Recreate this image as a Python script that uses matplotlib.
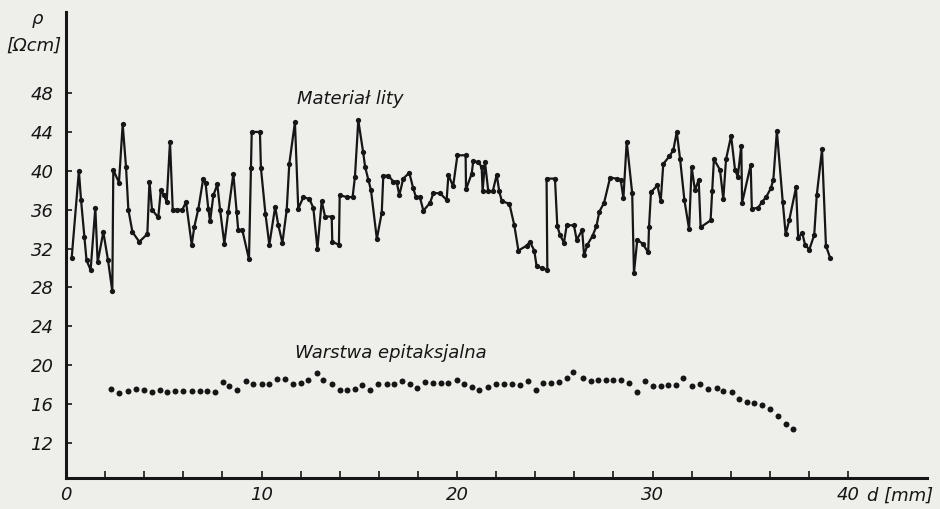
"""Resistivity along the sample: bulk material vs epitaxial layer."""

import matplotlib
matplotlib.use("Agg")
import matplotlib.pyplot as plt

# Materiał lity (bulk) - d [mm], rho [Ohm cm]
mat_d = [0.29, 0.66, 0.77, 0.94, 1.05, 1.26, 1.50, 1.62, 1.91, 2.15, 2.37, 2.42,
         2.71, 2.90, 3.07, 3.19, 3.40, 3.75, 4.16, 4.27, 4.40, 4.72, 4.85, 5.01,
         5.15, 5.32, 5.46, 5.70, 5.95, 6.14, 6.43, 6.56, 6.77, 7.02, 7.14, 7.28,
         7.37, 7.54, 7.74, 7.88, 8.10, 8.30, 8.56, 8.73, 8.81, 9.02, 9.36, 9.46,
         9.50, 9.92, 9.97, 10.20, 10.40, 10.70, 10.86, 11.07, 11.29, 11.42, 11.71,
         11.88, 12.14, 12.45, 12.65, 12.86, 13.08, 13.25, 13.59, 13.62, 13.96,
         14.00, 14.36, 14.66, 14.78, 14.95, 15.20, 15.30, 15.46, 15.60, 15.90,
         16.15, 16.23, 16.49, 16.74, 16.91, 17.05, 17.25, 17.56, 17.76, 17.90,
         18.10, 18.28, 18.62, 18.79, 19.13, 19.47, 19.56, 19.80, 20.02, 20.44,
         20.46, 20.75, 20.83, 21.09, 21.26, 21.31, 21.43, 21.60, 21.83, 22.03,
         22.16, 22.29, 22.68, 22.93, 23.14, 23.56, 23.73, 23.95, 24.07, 24.33,
         24.62, 24.58, 25.01, 25.13, 25.27, 25.47, 25.61, 25.98, 26.12, 26.40,
         26.50, 26.67, 26.93, 27.13, 27.28, 27.52, 27.83, 28.17, 28.37, 28.51,
         28.68, 28.96, 29.05, 29.22, 29.50, 29.78, 29.82, 29.92, 30.25, 30.42,
         30.55, 30.86, 31.06, 31.24, 31.41, 31.63, 31.87, 32.00, 32.17, 32.36,
         32.46, 32.97, 33.05, 33.14, 33.45, 33.62, 33.76, 34.02, 34.22, 34.36,
         34.54, 34.58, 35.02, 35.08, 35.40, 35.60, 35.81, 36.05, 36.18, 36.36,
         36.66, 36.81, 36.99, 37.34, 37.45, 37.66, 37.80, 38.02, 38.27, 38.40,
         38.67, 38.87, 39.09]
mat_rho = [31.0, 40.0, 37.0, 33.2, 30.8, 29.8, 36.2, 30.6, 33.7, 30.8, 27.6, 40.1,
           38.8, 44.8, 40.4, 36.0, 33.7, 32.7, 33.5, 38.9, 36.0, 35.2, 38.0, 37.5,
           36.8, 43.0, 36.0, 36.0, 36.0, 36.8, 32.4, 34.2, 36.1, 39.2, 38.7, 36.1,
           34.8, 37.5, 38.6, 36.0, 32.5, 35.8, 39.7, 35.8, 33.9, 33.9, 30.9, 40.3,
           44.0, 44.0, 40.3, 35.6, 32.4, 36.3, 34.4, 32.6, 36.0, 40.7, 45.0,
           36.1, 37.3, 37.1, 36.2, 32.0, 36.9, 35.3, 35.3, 32.7, 32.4,
           37.5, 37.3, 37.3, 39.4, 45.2, 41.9, 40.4, 39.1, 38.0, 33.0,
           35.7, 39.5, 39.5, 38.9, 38.9, 37.5, 39.2, 39.8, 38.2, 37.3,
           37.3, 35.9, 36.7, 37.7, 37.7, 37.0, 39.6, 38.4, 41.6, 41.6,
           38.1, 39.7, 41.0, 40.9, 40.4, 37.9, 40.9, 37.9, 37.9, 39.6,
           37.9, 36.9, 36.6, 34.4, 31.8, 32.3, 32.7, 31.8, 30.2, 30.0,
           29.8, 39.2, 39.2, 34.3, 33.4, 32.6, 34.4, 34.4, 32.9, 33.9,
           31.3, 32.4, 33.3, 34.3, 35.8, 36.7, 39.3, 39.2, 39.1, 37.2,
           43.0, 37.7, 29.5, 32.9, 32.5, 31.6, 34.2, 37.8, 38.5, 36.9,
           40.7, 41.5, 42.1, 44.0, 41.2, 37.0, 34.0, 40.4, 38.0, 39.1,
           34.2, 34.9, 37.9, 41.2, 40.1, 37.1, 41.2, 43.6, 40.1, 39.4,
           42.6, 36.7, 40.6, 36.1, 36.2, 36.8, 37.3, 38.2, 39.1, 44.1,
           36.8, 33.5, 34.9, 38.3, 33.1, 33.6, 32.4, 31.9, 33.4, 37.5,
           42.2, 32.3, 31.0]

# Warstwa epitaksjalna (epitaxial layer)
epi_d = [2.30, 2.73, 3.19, 3.56, 3.99, 4.38, 4.81, 5.18, 5.58, 6.00, 6.43, 6.85,
         7.23, 7.62, 8.01, 8.35, 8.76, 9.21, 9.58, 10.01, 10.40, 10.78, 11.20,
         11.60, 12.00, 12.40, 12.82, 13.16, 13.59, 14.02, 14.39, 14.78, 15.12,
         15.55, 15.98, 16.40, 16.80, 17.17, 17.60, 17.97, 18.36, 18.79, 19.16,
         19.56, 19.98, 20.36, 20.75, 21.14, 21.56, 21.99, 22.40, 22.83, 23.22,
         23.61, 24.02, 24.42, 24.81, 25.22, 25.61, 25.95, 26.43, 26.84, 27.23,
         27.62, 28.00, 28.39, 28.80, 29.19, 29.62, 30.01, 30.42, 30.81, 31.20,
         31.58, 32.00, 32.43, 32.82, 33.28, 33.62, 34.05, 34.44, 34.82, 35.19,
         35.59, 36.01, 36.40, 36.81, 37.20]
epi_rho = [17.6, 17.1, 17.4, 17.6, 17.5, 17.2, 17.5, 17.2, 17.4, 17.4, 17.4, 17.4,
           17.4, 17.2, 18.3, 17.9, 17.5, 18.4, 18.1, 18.1, 18.1, 18.6, 18.6,
           18.1, 18.2, 18.5, 19.2, 18.5, 18.1, 17.5, 17.5, 17.6, 18.0,
           17.5, 18.1, 18.1, 18.1, 18.4, 18.1, 17.7, 18.3, 18.2, 18.2,
           18.2, 18.5, 18.1, 17.8, 17.5, 17.8, 18.1, 18.1, 18.1, 18.0,
           18.4, 17.5, 18.2, 18.2, 18.3, 18.7, 19.3, 18.7, 18.4, 18.5,
           18.5, 18.5, 18.5, 18.2, 17.2, 18.4, 17.9, 17.9, 18.0, 18.0,
           18.7, 17.9, 18.1, 17.6, 17.7, 17.3, 17.2, 16.5, 16.2, 16.1,
           15.9, 15.5, 14.8, 14.0, 13.4]

y_ticks = [12, 16, 20, 24, 28, 32, 36, 40, 44, 48]
x_ticks = [0, 10, 20, 30, 40]

ink = "#161616"
paper = "#eeeeea"

fig = plt.figure(figsize=(9.4, 5.09), dpi=100, facecolor=paper)
ax = fig.add_axes([0.0702, 0.0609, 0.916, 0.9155], facecolor=paper)

ax.plot(mat_d, mat_rho, "-o", color=ink, linewidth=1.6, markersize=3.8,
        markeredgewidth=0)
ax.plot(epi_d, epi_rho, "o", color=ink, markersize=4.3, markeredgewidth=0)

ax.set_xlim(0, 44.04)
ax.set_ylim(8.4, 56.34)

for side in ("top", "right"):
    ax.spines[side].set_visible(False)
for side in ("left", "bottom"):
    ax.spines[side].set_linewidth(2.2)
    ax.spines[side].set_color(ink)

lab = dict(fontsize=13, fontstyle="italic", color=ink)
ax.set_yticks(y_ticks)
ax.set_yticklabels([str(v) for v in y_ticks], **lab)
ax.set_xticks(x_ticks)
ax.set_xticklabels([str(v) for v in x_ticks], **lab)
ax.set_xticks(range(0, 41, 2), minor=True)
ax.tick_params(axis="y", direction="in", length=4, width=1.2, color=ink, pad=9)
ax.tick_params(axis="x", which="both", direction="in", length=5, width=1.2,
               color=ink, pad=6)

ax.text(11.8, 47.4, "Materiał lity", va="center", ha="left", **lab)
ax.text(11.7, 21.3, "Warstwa epitaksjalna", va="center", ha="left", **lab)

fig.text(0.040, 0.962, "ρ", ha="center", va="center", **lab)
fig.text(0.036, 0.911, "[Ωcm]", ha="center", va="center", **lab)
fig.text(0.958, 0.027, "d [mm]", ha="center", va="center", **lab)

fig.savefig("out.png", dpi=100, facecolor=paper)
